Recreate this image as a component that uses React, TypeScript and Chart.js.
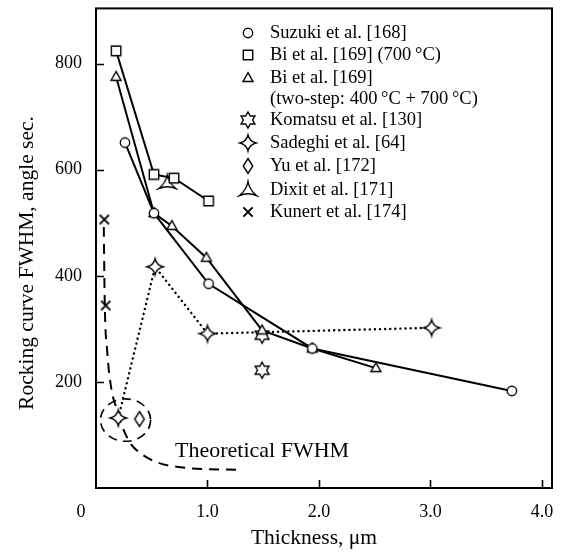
import React, { useEffect, useRef } from 'react';
import { Chart, registerables } from 'chart.js';
Chart.register(...registerables);

// ---- data ----
const suzukiX = [0.26, 0.52, 1.01, 1.94, 3.73];
const suzukiY = [651, 518, 385, 263, 183];
const bi700X = [0.18, 0.52, 0.7, 1.01];
const bi700Y = [824, 591, 584, 541];
const biTwoStepX = [0.18, 0.52, 0.68, 0.99, 1.49, 1.94, 2.51];
const biTwoStepY = [775, 518, 494, 434, 297, 263, 226];
const komatsuX = [1.49, 1.49];
const komatsuY = [288, 222];
const sadeghiX = [0.2, 0.53, 1.0, 3.01];
const sadeghiY = [132, 417, 291, 302];
const yuX = [0.39];
const yuY = [130];
const dixitX = [0.64];
const dixitY = [575];
const kunertX = [0.075, 0.087];
const kunertY = [506, 344];
const theoryX = [0.07, 0.078, 0.1, 0.14, 0.19, 0.23, 0.3, 0.36, 0.54, 0.81, 1.3];
const theoryY = [492, 353, 259, 184, 147, 119, 87, 72, 49, 38, 34];
const xTicks = [1, 2, 3, 4];
const yTicks = [200, 400, 600, 800];
const legendLabels = [
  ['Suzuki et al. [168]'],
  ['Bi et al. [169] (700\u2009°C)'],
  ['Bi et al. [169]', '(two-step: 400\u2009°C + 700\u2009°C)'],
  ['Komatsu et al. [130]'],
  ['Sadeghi et al. [64]'],
  ['Yu et al. [172]'],
  ['Dixit et al. [171]'],
  ['Kunert et al. [174]'],
];
const legendKinds = ['circle', 'square', 'triangle', 'hexagram', 'star4', 'diamond', 'dixit', 'cross'];
const xTitle = 'Thickness, μm';
const yTitle = 'Rocking curve FWHM, angle sec.';
const theoryLabel = 'Theoretical FWHM';

const SERIF = "'Liberation Serif', 'Times New Roman', serif";

function pts(xs: number[], ys: number[]) {
  return xs.map((x, i) => ({ x, y: ys[i] }));
}

function makeMarker(kind: string): HTMLCanvasElement {
  const S = 22;
  const c = document.createElement('canvas');
  c.width = S;
  c.height = S;
  const g = c.getContext('2d')!;
  g.translate(S / 2, S / 2);
  g.lineWidth = 1.4;
  g.strokeStyle = '#000';
  g.fillStyle = '#fff';
  g.lineJoin = 'miter';
  g.beginPath();
  switch (kind) {
    case 'circle':
      g.arc(0, 0, 4.7, 0, Math.PI * 2);
      break;
    case 'square':
      g.rect(-4.7, -4.7, 9.4, 9.4);
      break;
    case 'triangle':
      g.moveTo(0, -5.4);
      g.lineTo(5, 3.5);
      g.lineTo(-5, 3.5);
      g.closePath();
      break;
    case 'hexagram': {
      const R = 8;
      const r = R / Math.sqrt(3);
      for (let k = 0; k < 12; k++) {
        const a = -Math.PI / 2 + (k * Math.PI) / 6;
        const rr = k % 2 === 0 ? R : r;
        const px = Math.cos(a) * rr;
        const py = Math.sin(a) * rr;
        if (k === 0) g.moveTo(px, py);
        else g.lineTo(px, py);
      }
      g.closePath();
      break;
    }
    case 'star4': {
      const R = 8;
      const q = 1.6;
      g.moveTo(0, -R);
      g.quadraticCurveTo(q, -q, R, 0);
      g.quadraticCurveTo(q, q, 0, R);
      g.quadraticCurveTo(-q, q, -R, 0);
      g.quadraticCurveTo(-q, -q, 0, -R);
      g.closePath();
      break;
    }
    case 'diamond':
      g.moveTo(0, -7.5);
      g.lineTo(4.8, 0);
      g.lineTo(0, 7.5);
      g.lineTo(-4.8, 0);
      g.closePath();
      break;
    case 'dixit':
      g.moveTo(0, -8.5);
      g.quadraticCurveTo(1.5, 0, 8.5, 5.5);
      g.quadraticCurveTo(0, 2, -8.5, 5.5);
      g.quadraticCurveTo(-1.5, 0, 0, -8.5);
      g.closePath();
      break;
    case 'cross':
      g.lineWidth = 2;
      g.moveTo(-4.6, -4.6);
      g.lineTo(4.6, 4.6);
      g.moveTo(4.6, -4.6);
      g.lineTo(-4.6, 4.6);
      break;
  }
  if (kind !== 'cross') g.fill();
  g.stroke();
  return c;
}

export default function App() {
  const ref = useRef<HTMLCanvasElement | null>(null);
  useEffect(() => {
    const canvas = ref.current;
    if (!canvas) return;
    const markers: Record<string, HTMLCanvasElement> = {};
    legendKinds.forEach((k) => (markers[k] = makeMarker(k)));

    const decor = {
      id: 'decor',
      afterDatasetsDraw(chart: any) {
        const { ctx, scales } = chart;
        const xs = scales.x;
        const ys = scales.y;
        // dashed ellipse around the low-FWHM points
        const cx = xs.getPixelForValue(0.265);
        const cy = ys.getPixelForValue(128);
        const rx = xs.getPixelForValue(0.265 + 0.225) - cx;
        const ry = cy - ys.getPixelForValue(128 + 40);
        ctx.save();
        ctx.strokeStyle = '#000';
        ctx.lineWidth = 1.6;
        ctx.setLineDash([9, 6]);
        ctx.beginPath();
        ctx.ellipse(cx, cy, rx, ry, 0, 0, Math.PI * 2);
        ctx.stroke();
        ctx.restore();
      },
      afterDraw(chart: any) {
        const { ctx, chartArea, scales } = chart;
        const { left, right, top, bottom } = chartArea;
        const xs = scales.x;
        const ys = scales.y;
        ctx.save();
        ctx.strokeStyle = '#000';
        ctx.lineWidth = 2;
        ctx.setLineDash([]);
        ctx.strokeRect(left, top, right - left, bottom - top);
        // inward ticks
        ctx.lineWidth = 1.6;
        ctx.beginPath();
        xTicks.forEach((v) => {
          const px = Math.round(xs.getPixelForValue(v)) + 0.5;
          ctx.moveTo(px, bottom);
          ctx.lineTo(px, bottom - 8);
        });
        yTicks.forEach((v) => {
          const py = Math.round(ys.getPixelForValue(v)) + 0.5;
          ctx.moveTo(left, py);
          ctx.lineTo(left + 8, py);
        });
        ctx.stroke();
        ctx.fillStyle = '#000';
        // corner "0"
        ctx.font = `18px ${SERIF}`;
        ctx.textAlign = 'center';
        ctx.textBaseline = 'middle';
        ctx.fillText('0', 81, 512);
        // axis titles
        ctx.font = `21.5px ${SERIF}`;
        ctx.textBaseline = 'middle';
        ctx.fillText(xTitle, 314, 538);
        ctx.save();
        ctx.translate(27, 263);
        ctx.rotate(-Math.PI / 2);
        ctx.fillText(yTitle, 0, 0);
        ctx.restore();
        // annotation
        ctx.font = `22px ${SERIF}`;
        ctx.textAlign = 'left';
        ctx.textBaseline = 'alphabetic';
        ctx.fillText(theoryLabel, 175, 457);
        // legend
        const rowY = [33, 55, 78, 120, 143, 166, 190, 212];
        ctx.font = `18.5px ${SERIF}`;
        ctx.textBaseline = 'middle';
        legendLabels.forEach((lines, i) => {
          const y = rowY[i];
          const m = markers[legendKinds[i]];
          ctx.drawImage(m, 248 - m.width / 2, y - m.height / 2);
          lines.forEach((t, j) => ctx.fillText(t, 270, y + j * 21));
        });
        ctx.restore();
      },
    };

    const base = { borderColor: '#000', backgroundColor: '#fff', pointRadius: 6, pointHoverRadius: 6 };
    const chart = new Chart(canvas, {
      type: 'scatter',
      data: {
        datasets: [
          { ...base, label: 'Suzuki', data: pts(suzukiX, suzukiY), showLine: true, borderWidth: 2, pointStyle: markers.circle, order: 0 },
          { ...base, label: 'Bi700', data: pts(bi700X, bi700Y), showLine: true, borderWidth: 2, pointStyle: markers.square, order: 0 },
          { ...base, label: 'BiTwo', data: pts(biTwoStepX, biTwoStepY), showLine: true, borderWidth: 2, pointStyle: markers.triangle, order: 0 },
          { ...base, label: 'Komatsu', data: pts(komatsuX, komatsuY), showLine: false, pointStyle: markers.hexagram, order: 0 },
          {
            ...base,
            label: 'Sadeghi',
            data: pts(sadeghiX, sadeghiY),
            showLine: true,
            borderWidth: 2.4,
            borderDash: [0.1, 5],
            borderCapStyle: 'round',
            pointStyle: markers.star4,
            order: 1,
          },
          { ...base, label: 'Yu', data: pts(yuX, yuY), showLine: false, pointStyle: markers.diamond, order: 0 },
          { ...base, label: 'Dixit', data: pts(dixitX, dixitY), showLine: false, pointStyle: markers.dixit, order: 0 },
          { ...base, label: 'Kunert', data: pts(kunertX, kunertY), showLine: false, pointStyle: markers.cross, order: 0 },
          {
            label: 'Theory',
            data: pts(theoryX, theoryY),
            showLine: true,
            borderColor: '#000',
            borderWidth: 2,
            borderDash: [10, 7],
            pointRadius: 0,
            cubicInterpolationMode: 'monotone',
            order: 2,
          } as any,
        ],
      },
      options: {
        responsive: false,
        animation: false,
        devicePixelRatio: 1,
        layout: { padding: { top: 6, right: 12, left: 0, bottom: 0 } },
        plugins: { legend: { display: false }, tooltip: { enabled: false } },
        events: [],
        scales: {
          x: {
            type: 'linear',
            min: 0,
            max: 4.09,
            grid: { display: false, drawTicks: false, tickLength: 0 },
            border: { display: false },
            afterFit: (s: any) => {
              s.height = 64;
              s.paddingLeft = 0;
              s.paddingRight = 0;
              s.paddingTop = 0;
              s.paddingBottom = 0;
            },
            afterBuildTicks: (s: any) => {
              s.ticks = xTicks.map((v) => ({ value: v }));
            },
            ticks: {
              padding: 13,
              color: '#000',
              maxRotation: 0,
              font: { family: SERIF, size: 18 },
              callback: (v: any) => Number(v).toFixed(1),
            },
          },
          y: {
            type: 'linear',
            min: 0,
            max: 904,
            grid: { display: false, drawTicks: false, tickLength: 0 },
            border: { display: false },
            afterFit: (s: any) => {
              s.width = 96;
              s.paddingLeft = 0;
              s.paddingRight = 0;
              s.paddingTop = 0;
              s.paddingBottom = 0;
            },
            afterBuildTicks: (s: any) => {
              s.ticks = yTicks.map((v) => ({ value: v }));
            },
            ticks: {
              padding: 14,
              color: '#000',
              font: { family: SERIF, size: 18 },
              callback: (v: any) => String(v),
            },
          },
        },
      },
      plugins: [decor],
    } as any);
    return () => chart.destroy();
  }, []);

  return (
    <div style={{ position: 'absolute', left: 0, top: 0, width: 564, height: 552, background: '#fff' }}>
      <canvas ref={ref} width={564} height={552} style={{ display: 'block', width: 564, height: 552 }} />
    </div>
  );
}
